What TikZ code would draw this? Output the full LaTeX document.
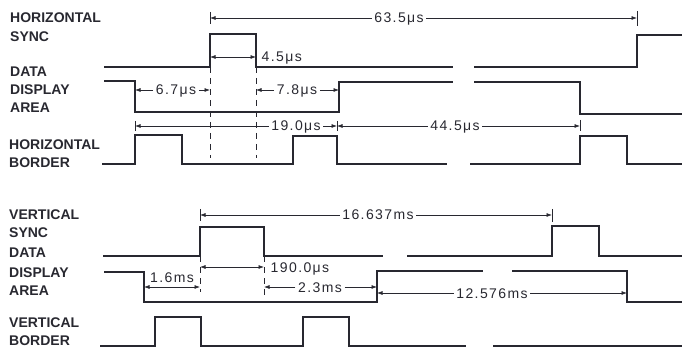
\documentclass[tikz,border=0pt]{standalone}
\usepackage{fontspec}
\setmainfont{Liberation Sans}
\usetikzlibrary{arrows.meta}
\definecolor{ink}{RGB}{40,40,48}
\begin{document}
\begin{tikzpicture}[x=1pt,y=-1pt,
  wave/.style={draw=ink,line width=1.6pt,line join=miter},
  dimln/.style={draw=ink,line width=0.7pt},
  arr/.style={dimln,-{Latex[length=5.5pt,width=4pt]}},
  darr/.style={dimln,{Latex[length=5.5pt,width=4pt]}-{Latex[length=5.5pt,width=4pt]}},
  tickln/.style={draw=ink,line width=0.8pt},
  guide/.style={draw=ink,line width=0.7pt,dash pattern=on 6pt off 5pt},
  lbl/.style={anchor=base west,inner sep=0pt,text=ink,font=\fontsize{14}{16}\selectfont\bfseries},
  meas/.style={inner xsep=2.5pt,inner ysep=0pt,text height=10pt,text depth=0pt,text=ink,
    font=\fontsize{14}{16}\selectfont\addfontfeature{LetterSpace=10}},
]
\useasboundingbox (0,0) rectangle (682,347);

% ---------- labels ----------
\node[lbl] (l1) at (10,23) {HORIZONTAL};
\node[lbl] (l2) at (10,42) {SYNC};
\node[lbl] (l3) at (10,77) {DATA};
\node[lbl] (l4) at (10,95) {DISPLAY};
\node[lbl] (l5) at (10,113) {AREA};
\node[lbl] (l6) at (9,150) {HORIZONTAL};
\node[lbl] (l7) at (9,168) {BORDER};
\node[lbl] (l8) at (9,220) {VERTICAL};
\node[lbl] (l9) at (9,238) {SYNC};
\node[lbl] (l10) at (9,258) {DATA};
\node[lbl] (l11) at (9,277) {DISPLAY};
\node[lbl] (l12) at (9,295) {AREA};
\node[lbl] (l13) at (9,327) {VERTICAL};
\node[lbl] (l14) at (9,345) {BORDER};

% ---------- edge coordinates ----------
\coordinate (hsUp) at (210,67);
\coordinate (hsDn) at (256,67);
\coordinate (hsUp2) at (637,67);
\coordinate (daDn) at (135,81);
\coordinate (daUp) at (339,112);
\coordinate (daDn2) at (580,82);
\coordinate (hbDn) at (337,136);
\coordinate (vsUp) at (200,256);
\coordinate (vsDn) at (264,256);
\coordinate (vsUp2) at (552,256);
\coordinate (vdDn) at (144,272);
\coordinate (vdUp) at (377,302);
\coordinate (vdDn2) at (627,271);
\coordinate (y16) at (0,287);

% ---------- horizontal waveforms ----------
\draw[wave] (104,67) -- (210,67) -- (210,34) -- (256,34) -- (256,67) -- (453,67);
\draw[wave] (474,67) -- (637,67) -- (637,35) -- (682,35);
\draw[wave] (104,81) -- (135,81) -- (135,112) -- (339,112) -- (339,82) -- (453,82);
\draw[wave] (474,82) -- (580,82) -- (580,114) -- (682,114);
\draw[wave] (102,164) -- (135,164) -- (135,135) -- (182,135) -- (182,164) -- (293,164)
  -- (293,136) -- (337,136) -- (337,164) -- (447,164);
\draw[wave] (470,164) -- (580,164) -- (580,136) -- (627,136) -- (627,164) -- (682,164);

% ---------- vertical waveforms ----------
\draw[wave] (103,256) -- (200,256) -- (200,227) -- (264,227) -- (264,256) -- (383,256);
\draw[wave] (407,256) -- (552,256) -- (552,226) -- (599,226) -- (599,256) -- (682,256);
\draw[wave] (104,272) -- (144,272) -- (144,302) -- (377,302) -- (377,271) -- (483,271);
\draw[wave] (512,271) -- (627,271) -- (627,302) -- (682,302);
\draw[wave] (100,346) -- (155,346) -- (155,317) -- (201,317) -- (201,346) -- (303,346)
  -- (303,317) -- (349,317) -- (349,346) -- (466,346);
\draw[wave] (493,346) -- (682,346);

% ---------- guide lines ----------
\draw[guide] (hsUp) -- ++(0,91);
\draw[guide] (hsDn) -- ++(0,91);
\draw[guide] (vsUp) -- ++(0,36);
\draw[guide] (vsDn) -- ++(0,39);

% ---------- horizontal dimensions ----------
\node[meas] (m635) at (399,18) {63.5μs};
\draw[arr] (m635.west) -- (m635.west -| hsUp);
\draw[arr] (m635.east) -- (m635.east -| hsUp2);
\draw[tickln] (210,12) -- (210,24);
\draw[tickln] (637,11) -- (637,26);

\node[meas,anchor=west] (m45) at (259,57) {4.5μs};
\draw[darr] (hsUp |- m45.west) -- (hsDn |- m45.west);

\node[meas] (m67) at (176,90) {6.7μs};
\draw[arr] (m67.west) -- (m67.west -| daDn);
\draw[arr] (m67.east) -- (m67.east -| hsUp);

\node[meas] (m78) at (297,90) {7.8μs};
\draw[arr] (m78.west) -- (m78.west -| hsDn);
\draw[arr] (m78.east) -- (m78.east -| daUp);

\node[meas] (m190a) at (296,126) {19.0μs};
\draw[arr] (m190a.west) -- (m190a.west -| daDn);
\draw[arr] (m190a.east) -- (m190a.east -| hbDn);

\node[meas] (m445) at (455,126) {44.5μs};
\draw[arr] (m445.west) -- (m445.west -| hbDn);
\draw[arr] (m445.east) -- (m445.east -| daDn2);
\draw[tickln] (135,121) -- (135,131);
\draw[tickln] (337,121) -- (337,131);
\draw[tickln] (580,120) -- (580,131);

% ---------- vertical dimensions ----------
\node[meas] (m16637) at (378,215) {16.637ms};
\draw[arr] (m16637.west) -- (m16637.west -| vsUp);
\draw[arr] (m16637.east) -- (m16637.east -| vsUp2);
\draw[tickln] (200,209) -- (200,221);
\draw[tickln] (552,209) -- (552,222);

\node[meas,anchor=west] (m1900) at (268,267) {190.0μs};
\draw[darr] (vsUp |- m1900.west) -- (vsDn |- m1900.west);

\node[meas] (m16) at (172,277) {1.6ms};
\draw[darr] (vdDn |- y16) -- (vsUp |- y16);

\node[meas] (m23) at (320,287) {2.3ms};
\draw[arr] (m23.west) -- (m23.west -| vsDn);
\draw[arr] (m23.east) -- (m23.east -| vdUp);

\node[meas] (m12576) at (492,293) {12.576ms};
\draw[arr] (m12576.west) -- (m12576.west -| vdUp);
\draw[arr] (m12576.east) -- (m12576.east -| vdDn2);
\end{tikzpicture}
\end{document}
